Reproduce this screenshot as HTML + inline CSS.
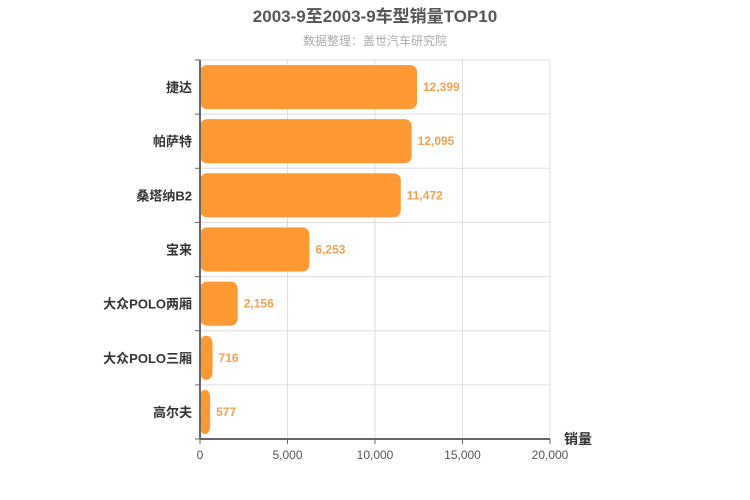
<!DOCTYPE html>
<html><head><meta charset="utf-8">
<style>
body{margin:0;background:#fff;}
svg{display:block;font-family:"Liberation Sans","Noto Sans CJK SC",sans-serif;}
</style></head>
<body>
<svg id="chart" width="750" height="500">
<text x="375" y="22" text-anchor="middle" font-size="17" font-weight="bold" fill="#555">2003-9至2003-9车型销量TOP10</text>
<text x="375" y="45" text-anchor="middle" font-size="12" fill="#aaa">数据整理：盖世汽车研究院</text>
<g id="grid"></g>
<g id="bars"></g>
<g id="axes"></g>
<text x="564" y="444" font-size="14" font-weight="bold" fill="#333">销量</text>
</svg>
<script>
const categories=["捷达","帕萨特","桑塔纳B2","宝来","大众POLO两厢","大众POLO三厢","高尔夫"];
const values=[12399,12095,11472,6253,2156,716,577];
const ticks=[0,5000,10000,15000,20000];
const tickLabels=["0","5,000","10,000","15,000","20,000"];
const NS="http://www.w3.org/2000/svg";
const X0=200,X1=550,Y0=60,Y1=439,MAX=20000;
const xs=v=>X0+(X1-X0)*v/MAX;
const rh=(Y1-Y0)/categories.length;
function mk(t,a,p){const e=document.createElementNS(NS,t);for(const k in a)e.setAttribute(k,a[k]);p.appendChild(e);return e;}
const grid=document.getElementById('grid'),bars=document.getElementById('bars'),axes=document.getElementById('axes');
ticks.forEach((t,i)=>{
  const x=xs(t);
  if(i>0){const l=mk('line',{x1:x,y1:Y0,x2:x,y2:Y1,stroke:'#ddd'},grid);
  
  }
  const tk=mk('line',{x1:x,y1:Y1,x2:x,y2:Y1+5,stroke:'#666'},axes);
  
  
  const tx=mk('text',{x:x,y:Y1+20,'text-anchor':'middle','font-size':12,fill:'#555'},axes);
  tx.textContent=tickLabels[i];
  
  
});
for(let i=0;i<=categories.length;i++){
  const y=Y0+i*rh;
  if(i<categories.length){const l=mk('line',{x1:X0,y1:y,x2:X1,y2:y,stroke:'#ddd'},grid);
  
  }
  const tk=mk('line',{x1:X0-5,y1:y,x2:X0,y2:y,stroke:'#666'},axes);
  
  
}
categories.forEach((c,i)=>{
  const y=Y0+i*rh;
  const r=mk('rect',{x:X0,y:y+5,width:Math.max(xs(values[i])-X0,1),height:rh-10,rx:7,ry:7,fill:'#ff9933'},bars);
  
  
  const v=mk('text',{x:xs(values[i])+6,y:y+rh/2+4,'font-size':12,'font-weight':'bold',fill:'#f0a050'},bars);
  v.textContent=values[i].toLocaleString('en-US');
  
  
  const t=mk('text',{x:X0-8,y:y+rh/2+5,'text-anchor':'end','font-size':13,'font-weight':'bold',fill:'#333'},axes);
  t.textContent=c;
  
  
});
const ax=mk('line',{x1:X0,y1:Y1,x2:X1,y2:Y1,stroke:'#666','stroke-width':2},axes);


const ay=mk('line',{x1:X0,y1:Y0,x2:X0,y2:Y1,stroke:'#666','stroke-width':2},axes);


</script>
</body></html>
